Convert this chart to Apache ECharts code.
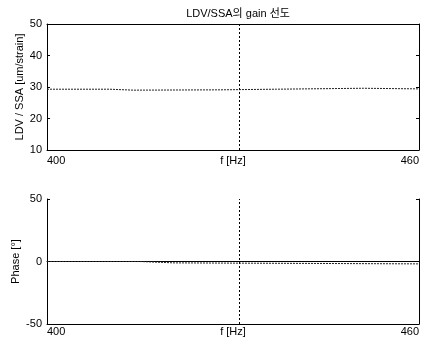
<!DOCTYPE html>
<html>
<head>
<meta charset="utf-8">
<script src="https://cdn.jsdelivr.net/npm/echarts@6/dist/echarts.min.js"></script>
<style>
  html, body { margin: 0; padding: 0; background: #fff; }
  #chart { width: 424px; height: 343px; }
</style>
</head>
<body>
<div id="chart"></div>
<script>
// frequency points [Hz]
const freq = [400, 410, 410.2, 414, 414.2, 428, 428.2, 437, 437.2, 451, 451.2, 460];
// gain LDV / SSA [um/strain]
const gainValues = [29.3, 29.3, 29.0, 29.0, 29.1, 29.1, 29.3, 29.3, 29.6, 29.6, 29.4, 29.4];

const phaseFreq = [400, 415, 415.2, 420.5, 420.7, 460];
const phaseValues = [0, 0, -1.1, -1.1, -1.9, -1.9];

const markerFreq = 431;
const xTicks = [400, 460];

const font = '"Liberation Sans", Arial, "Noto Sans CJK KR", sans-serif';
const chart = echarts.init(document.getElementById('chart'));

function xAxisFor(gridIndex, labelMargin, nameGap) {
    return {
        type: 'value',
        gridIndex: gridIndex,
        min: xTicks[0],
        max: xTicks[1],
        interval: 60,
        name: 'f [Hz]',
        nameLocation: 'middle',
        nameGap: nameGap,
        nameMoveOverlap: false,
        nameTextStyle: { color: '#000', fontFamily: font, fontSize: 11 },
        axisLine: { show: true, onZero: false, lineStyle: { color: '#000', width: 1 } },
        axisTick: { show: false },
        splitLine: { show: false },
        axisLabel: {
            color: '#000', fontFamily: font, fontSize: 11, margin: labelMargin,
            alignMinLabel: 'left', alignMaxLabel: 'right'
        }
    };
}

function topAxis(gridIndex) {
    return {
        type: 'value', gridIndex: gridIndex, position: 'top',
        min: xTicks[0], max: xTicks[1],
        axisLine: { show: true, lineStyle: { color: '#000', width: 1 } },
        axisTick: { show: false }, axisLabel: { show: false }, splitLine: { show: false }
    };
}

function yAxisFor(gridIndex, min, max, interval, name, nameGap) {
    return {
        type: 'value',
        gridIndex: gridIndex,
        min: min, max: max, interval: interval,
        name: name,
        nameLocation: 'middle',
        nameGap: nameGap,
        nameMoveOverlap: false,
        nameTextStyle: { color: '#000', fontFamily: font, fontSize: 11 },
        axisLine: { show: true, lineStyle: { color: '#000', width: 1 } },
        axisTick: { show: true, inside: true, length: 3, lineStyle: { color: '#000' } },
        splitLine: { show: false },
        axisLabel: { color: '#000', fontFamily: font, fontSize: 11, margin: 5 }
    };
}

function rightAxis(gridIndex, min, max, interval) {
    return {
        type: 'value', gridIndex: gridIndex, position: 'right',
        min: min, max: max, interval: interval,
        axisLine: { show: true, lineStyle: { color: '#000', width: 1 } },
        axisTick: { show: true, inside: true, length: 3, lineStyle: { color: '#000' } },
        axisLabel: { show: false }, splitLine: { show: false }
    };
}

const marker = {
    silent: true,
    symbol: 'none',
    label: { show: false },
    lineStyle: { color: '#000', type: [2, 2], width: 1 },
    data: [{ xAxis: markerFreq }]
};

const option = {
    animation: false,
    backgroundColor: '#fff',
    title: {
        text: 'LDV/SSA의 gain 선도',
        left: 233,
        textAlign: 'center',
        top: 3,
        textStyle: { color: '#000', fontFamily: font, fontSize: 11, fontWeight: 'normal' }
    },
    grid: [
        { left: 47, right: 5, top: 24, height: 126, outerBoundsMode: 'none' },
        { left: 47, right: 5, top: 199, height: 125, outerBoundsMode: 'none' }
    ],
    xAxis: [xAxisFor(0, 5, 5), xAxisFor(1, 2, 2), topAxis(0), topAxis(1)],
    yAxis: [
        yAxisFor(0, 10, 50, 10, 'LDV / SSA [um/strain]', 22),
        yAxisFor(1, -50, 50, 50, 'Phase [°]', 26),
        rightAxis(0, 10, 50, 10),
        rightAxis(1, -50, 50, 50)
    ],
    series: [
        {
            type: 'line',
            xAxisIndex: 0, yAxisIndex: 0,
            data: freq.map((f, i) => [f, gainValues[i]]),
            symbol: 'none',
            lineStyle: { color: '#222', width: 1, type: [2, 1] },
            markLine: marker
        },
        {
            type: 'line',
            xAxisIndex: 1, yAxisIndex: 1,
            data: phaseFreq.map((f, i) => [f, phaseValues[i]]),
            symbol: 'none',
            lineStyle: { color: '#222', width: 1, type: [2, 1] },
            markLine: marker
        }
    ]
};

chart.setOption(option);
</script>
</body>
</html>
